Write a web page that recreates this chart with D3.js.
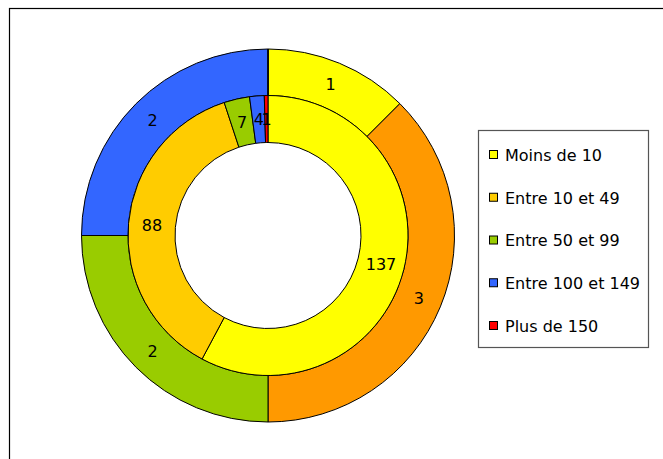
<!DOCTYPE html>
<html>
<head>
<meta charset="utf-8">
<script src="https://cdn.jsdelivr.net/npm/d3@7"></script>
<style>
  body { margin: 0; background: #fff; }
  svg text { font-family: "DejaVu Sans", Verdana, sans-serif; }
</style>
</head>
<body>
<div id="chart"></div>
<script>
const categories = ["Moins de 10", "Entre 10 et 49", "Entre 50 et 99", "Entre 100 et 149", "Plus de 150"]
const innerValues = [137, 88, 7, 4, 1]
const outerValues = [1, 3, 2, 2, 0]
const innerColors = ["#FFFF00", "#FFCC00", "#99CC00", "#3366FF", "#FF0000"]
const outerColors = ["#FFFF00", "#FF9900", "#99CC00", "#3366FF", "#FF0000"]

const width = 663
const height = 459
const cx = 268
const cy = 235.5

const svg = d3
  .select("#chart")
  .append("svg")
  .attr("width", width)
  .attr("height", height)

// chart frame (runs off the right and bottom edge)
svg
  .append("rect")
  .attr("x", 9.5)
  .attr("y", 8.5)
  .attr("width", 700)
  .attr("height", 500)
  .attr("fill", "#fff")
  .attr("stroke", "#000")
  .attr("stroke-width", 1.2)

const pie = d3.pie().sort(null).value(d => d.value)

function drawRing(values, colors, r0, r1) {
  const data = values.map((v, i) => ({ value: v, color: colors[i] }))
  const arc = d3.arc().innerRadius(r0).outerRadius(r1)
  const g = svg.append("g").attr("transform", `translate(${cx}, ${cy})`)

  g.selectAll("path")
    .data(pie(data))
    .enter()
    .append("path")
    .attr("d", arc)
    .attr("fill", d => d.data.color)
    .attr("stroke", "#000")
    .attr("stroke-width", 1)

  g.selectAll("text")
    .data(pie(data).filter(d => d.data.value > 0))
    .enter()
    .append("text")
    .attr("x", d => arc.centroid(d)[0])
    .attr("y", d => arc.centroid(d)[1])
    .attr("text-anchor", "middle")
    .attr("dy", "0.36em")
    .attr("font-size", "16px")
    .attr("fill", "#000")
    .text(d => d.data.value)
}

drawRing(outerValues, outerColors, 140, 186.5)
drawRing(innerValues, innerColors, 93, 140)

// legend
const legend = svg.append("g")
legend
  .append("rect")
  .attr("x", 478.5)
  .attr("y", 130.5)
  .attr("width", 170)
  .attr("height", 217)
  .attr("fill", "#fff")
  .attr("stroke", "#555")
  .attr("stroke-width", 1.2)

const rowY = d3.scalePoint().domain(categories).range([155, 326])

categories.forEach((c, i) => {
  legend
    .append("rect")
    .attr("x", 489.5)
    .attr("y", rowY(c) - 4.5)
    .attr("width", 8)
    .attr("height", 8)
    .attr("fill", innerColors[i])
    .attr("stroke", "#000")
    .attr("stroke-width", 1)
  legend
    .append("text")
    .attr("x", 505)
    .attr("y", rowY(c))
    .attr("dy", "0.36em")
    .attr("font-size", "16px")
    .attr("fill", "#000")
    .text(c)
})
</script>
</body>
</html>
